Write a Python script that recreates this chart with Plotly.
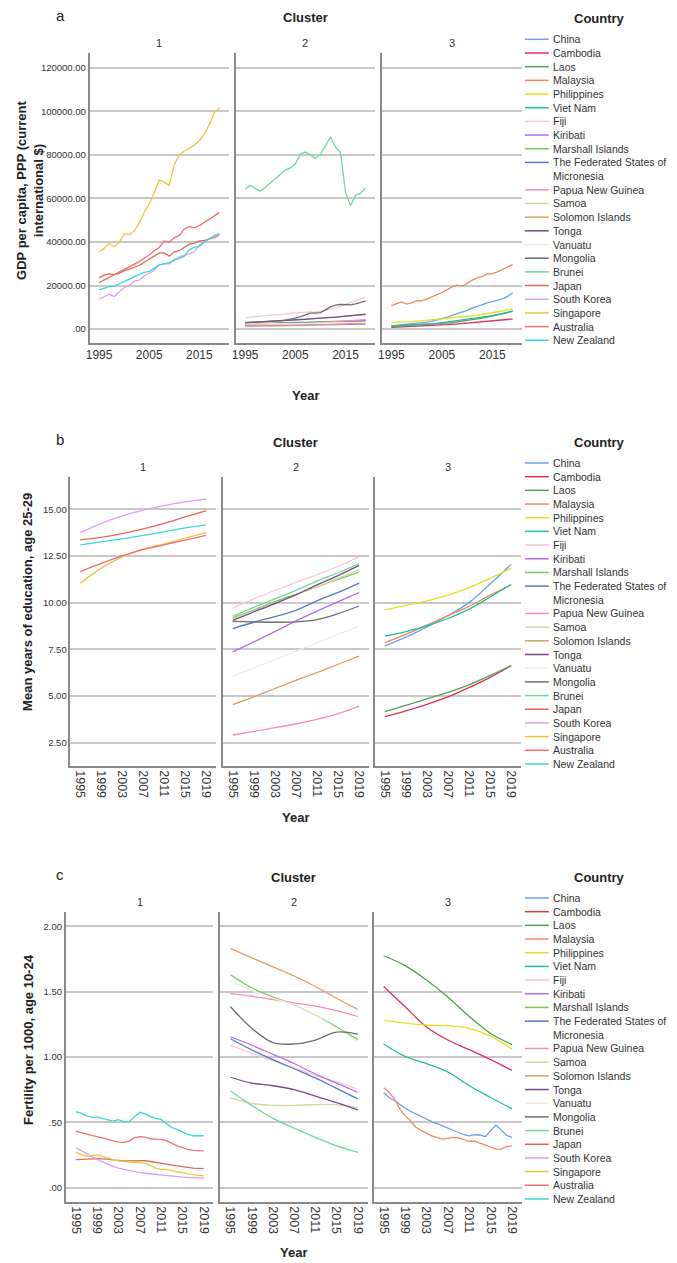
import plotly.graph_objects as go

PAGE_W, PAGE_H = 677, 1263
BODY_MARGIN = 8  # default page margin around the plot div
W, H = PAGE_W - BODY_MARGIN, PAGE_H - BODY_MARGIN
FONT = "Liberation Sans, Arial, sans-serif"

# ---------------- data ----------------
YEARS = list(range(1995, 2020))
YEARS_4 = [1995, 1999, 2003, 2007, 2011, 2015, 2019]

COUNTRIES = ["China", "Cambodia", "Laos", "Malaysia", "Philippines", "Viet Nam", "Fiji", "Kiribati",
             "Marshall Islands", "The Federated States of Micronesia", "Papua New Guinea", "Samoa",
             "Solomon Islands", "Tonga", "Vanuatu", "Mongolia", "Brunei", "Japan", "South Korea",
             "Singapore", "Australia", "New Zealand"]
COLORS = ["#6fa0e8", "#e0305a", "#55a050", "#f08a5d", "#e6e020", "#1fc0a0", "#f9c6d4", "#b46ef0",
          "#7cc85a", "#5a78c8", "#f68cc0", "#d6d6a0", "#d8a068", "#7a4a8c", "#ecece0", "#6e6e6e",
          "#6ed8a0", "#e06a5a", "#dca0f0", "#e6c83c", "#f07070", "#3cd8d8"]
CLUSTER_1 = ["Japan", "South Korea", "Singapore", "Australia", "New Zealand"]
CLUSTER_2 = ["Fiji", "Kiribati", "Marshall Islands", "The Federated States of Micronesia", "Papua New Guinea",
             "Samoa", "Solomon Islands", "Tonga", "Vanuatu", "Mongolia", "Brunei"]
CLUSTER_3 = ["China", "Cambodia", "Laos", "Malaysia", "Philippines", "Viet Nam"]

# GDP per capita, PPP (yearly 1995-2019)
GDP_CHINA = [1500, 1700, 1900, 2100, 2300, 2600, 2900, 3200, 3600, 4100, 4700, 5400, 6300, 7000, 7700, 8600, 9600, 10500, 11300, 12000, 12600, 13100, 13900, 15000, 16700]
GDP_CAMBODIA = [800, 900, 900, 900, 1000, 1100, 1200, 1300, 1400, 1600, 1800, 2000, 2200, 2400, 2400, 2600, 2800, 3000, 3200, 3400, 3500, 3800, 4000, 4300, 4600]
GDP_LAOS = [1400, 1500, 1600, 1600, 1700, 1800, 1900, 2000, 2200, 2300, 2500, 2700, 3000, 3300, 3500, 3800, 4200, 4600, 5000, 5500, 6000, 6500, 7000, 7600, 8100]
GDP_MALAYSIA = [10800, 11800, 12500, 11500, 12000, 13000, 13000, 13800, 14700, 15800, 16800, 18000, 19400, 20200, 19700, 21000, 22500, 23500, 24200, 25300, 25500, 26300, 27500, 28500, 29600]
GDP_PHILIPPINES = [3000, 3200, 3300, 3300, 3400, 3600, 3700, 3800, 4100, 4400, 4700, 4900, 5200, 5400, 5500, 5800, 6000, 6400, 6800, 7100, 7400, 7800, 8300, 8800, 9300]
GDP_VIETNAM = [1300, 1400, 1500, 1600, 1700, 1800, 2000, 2200, 2400, 2600, 2900, 3200, 3500, 3800, 4000, 4300, 4700, 5000, 5400, 5800, 6200, 6600, 7100, 7700, 8400]
GDP_FIJI = [5300, 5500, 5600, 5700, 6100, 6000, 6300, 6600, 6900, 7300, 7500, 7700, 7700, 7900, 7800, 8000, 8500, 9000, 9600, 10400, 11300, 12200, 13000, 13900, 14700]
GDP_KIRIBATI = [1400, 1450, 1500, 1500, 1550, 1600, 1650, 1700, 1700, 1750, 1800, 1800, 1850, 1900, 1900, 1950, 2000, 2050, 2100, 2100, 2150, 2200, 2250, 2300, 2300]
GDP_MARSHALL = [2400, 2450, 2500, 2500, 2550, 2600, 2650, 2700, 2750, 2800, 2900, 2950, 3000, 3100, 3100, 3150, 3250, 3350, 3450, 3550, 3650, 3750, 3850, 3950, 4050]
GDP_MICRONESIA = [2400, 2400, 2450, 2450, 2500, 2550, 2600, 2650, 2700, 2750, 2800, 2850, 2900, 2950, 2950, 3000, 3100, 3150, 3200, 3300, 3350, 3450, 3500, 3600, 3700]
GDP_PNG = [2000, 2050, 2050, 2000, 2000, 2050, 2050, 2100, 2150, 2200, 2300, 2400, 2500, 2650, 2800, 2950, 3100, 3300, 3450, 3650, 3850, 4000, 4150, 4250, 4350]
GDP_SAMOA = [2700, 2800, 2900, 3000, 3100, 3300, 3500, 3700, 3900, 4100, 4300, 4500, 4700, 4900, 5000, 5000, 5200, 5400, 5500, 5700, 5900, 6000, 6200, 6400, 6600]
GDP_SOLOMON = [1600, 1650, 1650, 1600, 1550, 1450, 1400, 1400, 1450, 1550, 1650, 1750, 1850, 1950, 1950, 2050, 2200, 2300, 2400, 2450, 2500, 2550, 2600, 2650, 2700]
GDP_TONGA = [3000, 3100, 3200, 3300, 3400, 3500, 3600, 3700, 3900, 4000, 4200, 4400, 4500, 4700, 4800, 5000, 5200, 5400, 5500, 5700, 5900, 6100, 6300, 6500, 6800]
GDP_VANUATU = [2400, 2450, 2500, 2500, 2450, 2500, 2450, 2350, 2400, 2500, 2600, 2700, 2850, 2950, 2950, 2950, 2950, 3000, 3000, 3050, 3050, 3100, 3150, 3200, 3200]
GDP_MONGOLIA = [2900, 3000, 3100, 3150, 3250, 3400, 3600, 3800, 4100, 4500, 5000, 5700, 6500, 7300, 7300, 7600, 8800, 10200, 11000, 11300, 11200, 11100, 11600, 12300, 12900]
GDP_BRUNEI = [64300, 66000, 64600, 63400, 65000, 66800, 69000, 71000, 73000, 74000, 75800, 80400, 81300, 80000, 78500, 80200, 84000, 88300, 83700, 81100, 63000, 56600, 61500, 62300, 64900]
GDP_JAPAN = [23600, 24800, 25300, 25000, 25500, 26800, 27500, 28300, 29200, 30700, 32000, 33500, 35000, 35000, 33500, 35500, 36000, 37500, 39000, 39500, 40500, 40700, 41500, 42000, 43200]
GDP_KOREA = [13700, 15000, 16000, 15000, 17000, 19000, 20000, 22000, 22500, 24500, 25500, 27000, 29500, 30000, 30000, 32000, 33000, 34000, 34500, 35500, 38500, 40000, 41500, 42500, 43500]
GDP_SINGAPORE = [35500, 37000, 39500, 37800, 39800, 43800, 43300, 45000, 48500, 53500, 57500, 62500, 68500, 67500, 66000, 75500, 80000, 81800, 83000, 84500, 86500, 89500, 94000, 99500, 101500]
GDP_AUSTRALIA = [21300, 22500, 23800, 25000, 26300, 27500, 28500, 29700, 31000, 32500, 34000, 36000, 37500, 40500, 39800, 42000, 43000, 46000, 47000, 46500, 47500, 49000, 50500, 52000, 53500]
GDP_NZ = [18000, 18800, 19500, 19700, 20800, 22000, 23000, 24000, 25000, 26000, 26500, 28000, 29500, 30000, 30500, 31500, 32500, 33500, 36500, 37500, 38000, 40000, 41500, 43000, 44000]

# Mean years of education, age 25-29 (1995, 1999, ..., 2019)
EDU_CHINA = [7.68, 8.15, 8.7, 9.3, 10.0, 11.0, 12.05]
EDU_CAMBODIA = [3.89, 4.2, 4.55, 4.95, 5.45, 6.0, 6.63]
EDU_LAOS = [4.16, 4.5, 4.85, 5.2, 5.6, 6.1, 6.63]
EDU_MALAYSIA = [7.86, 8.3, 8.8, 9.3, 9.8, 10.4, 10.95]
EDU_PHILIPPINES = [9.61, 9.85, 10.1, 10.4, 10.8, 11.3, 11.85]
EDU_VIETNAM = [8.21, 8.45, 8.75, 9.15, 9.65, 10.3, 10.98]
EDU_FIJI = [9.71, 10.2, 10.65, 11.08, 11.5, 11.95, 12.45]
EDU_KIRIBATI = [7.36, 7.9, 8.45, 9.02, 9.55, 10.05, 10.54]
EDU_MARSHALL = [9.2, 9.6, 10.05, 10.45, 10.85, 11.25, 11.64]
EDU_MICRONESIA = [8.61, 8.95, 9.25, 9.59, 10.1, 10.55, 11.05]
EDU_PNG = [2.91, 3.1, 3.3, 3.5, 3.75, 4.05, 4.46]
EDU_SAMOA = [9.14, 9.55, 9.95, 10.4, 10.85, 11.3, 11.77]
EDU_SOLOMON = [4.54, 4.95, 5.4, 5.84, 6.25, 6.7, 7.14]
EDU_TONGA = [9.05, 9.5, 9.95, 10.43, 10.95, 11.45, 12.0]
EDU_VANUATU = [6.07, 6.5, 6.95, 7.4, 7.85, 8.3, 8.73]
EDU_MONGOLIA = [9.0, 8.97, 8.95, 8.97, 9.09, 9.41, 9.82]
EDU_BRUNEI = [9.27, 9.75, 10.2, 10.66, 11.15, 11.6, 12.09]
EDU_JAPAN = [13.36, 13.5, 13.7, 13.95, 14.25, 14.6, 14.92]
EDU_KOREA = [13.75, 14.25, 14.65, 14.95, 15.2, 15.4, 15.55]
EDU_SINGAPORE = [11.04, 11.85, 12.45, 12.85, 13.15, 13.45, 13.75]
EDU_AUSTRALIA = [11.66, 12.1, 12.5, 12.85, 13.1, 13.35, 13.6]
EDU_NZ = [13.09, 13.25, 13.42, 13.6, 13.8, 14.0, 14.17]

# Fertility per 1000, age 10-24 (yearly for wiggly series, 4-yearly for smooth ones)
FERT_CHINA = [0.726, 0.69, 0.667, 0.636, 0.608, 0.585, 0.564, 0.544, 0.523, 0.505, 0.49, 0.474, 0.456, 0.441, 0.426, 0.405, 0.397, 0.405, 0.403, 0.39, 0.435, 0.48, 0.44, 0.40, 0.385]
FERT_MALAYSIA = [0.764, 0.731, 0.68, 0.603, 0.551, 0.513, 0.462, 0.436, 0.415, 0.397, 0.385, 0.372, 0.377, 0.385, 0.38, 0.37, 0.355, 0.355, 0.34, 0.325, 0.315, 0.295, 0.295, 0.315, 0.32]
FERT_CAMBODIA = [1.54, 1.385, 1.23, 1.13, 1.056, 0.98, 0.897]
FERT_LAOS = [1.775, 1.70, 1.59, 1.46, 1.31, 1.18, 1.095]
FERT_PHILIPPINES = [1.28, 1.26, 1.245, 1.24, 1.22, 1.16, 1.06]
FERT_VIETNAM = [1.10, 1.005, 0.95, 0.885, 0.78, 0.69, 0.603]
FERT_FIJI = [1.09, 1.03, 0.97, 0.915, 0.86, 0.81, 0.755]
FERT_KIRIBATI = [1.155, 1.09, 1.02, 0.95, 0.87, 0.80, 0.73]
FERT_MARSHALL = [1.63, 1.53, 1.46, 1.40, 1.32, 1.23, 1.135]
FERT_MICRONESIA = [1.14, 1.055, 0.98, 0.91, 0.84, 0.76, 0.68]
FERT_PNG = [1.485, 1.465, 1.44, 1.415, 1.39, 1.355, 1.31]
FERT_SAMOA = [0.685, 0.645, 0.63, 0.63, 0.635, 0.635, 0.61]
FERT_SOLOMON = [1.83, 1.76, 1.69, 1.62, 1.54, 1.45, 1.365]
FERT_TONGA = [0.845, 0.80, 0.78, 0.75, 0.70, 0.65, 0.595]
FERT_VANUATU = [1.58, 1.51, 1.45, 1.40, 1.32, 1.22, 1.12]
FERT_MONGOLIA = [1.385, 1.22, 1.11, 1.10, 1.13, 1.19, 1.175]
FERT_BRUNEI = [0.74, 0.63, 0.53, 0.455, 0.385, 0.32, 0.27]
FERT_JAPAN = [0.215, 0.215, 0.217, 0.22, 0.222, 0.222, 0.218, 0.213, 0.208, 0.205, 0.205, 0.206, 0.207, 0.206, 0.2, 0.195, 0.188, 0.18, 0.172, 0.165, 0.16, 0.155, 0.15, 0.147, 0.145]
FERT_KOREA = [0.305, 0.28, 0.26, 0.237, 0.215, 0.197, 0.18, 0.164, 0.15, 0.14, 0.13, 0.122, 0.115, 0.11, 0.105, 0.1, 0.095, 0.091, 0.087, 0.083, 0.08, 0.078, 0.075, 0.073, 0.072]
FERT_SINGAPORE = [0.27, 0.255, 0.24, 0.245, 0.25, 0.24, 0.225, 0.215, 0.205, 0.2, 0.2, 0.195, 0.19, 0.185, 0.17, 0.15, 0.14, 0.14, 0.13, 0.12, 0.11, 0.105, 0.1, 0.093, 0.09]
FERT_AUSTRALIA = [0.433, 0.42, 0.41, 0.40, 0.39, 0.38, 0.37, 0.356, 0.349, 0.346, 0.356, 0.382, 0.39, 0.387, 0.374, 0.369, 0.369, 0.359, 0.338, 0.32, 0.308, 0.292, 0.285, 0.282, 0.282]
FERT_NZ = [0.58, 0.57, 0.55, 0.54, 0.54, 0.53, 0.52, 0.51, 0.52, 0.505, 0.505, 0.54, 0.577, 0.564, 0.544, 0.531, 0.523, 0.49, 0.46, 0.446, 0.428, 0.408, 0.397, 0.395, 0.397]

GDP_TICKS = [0, 20000, 40000, 60000, 80000, 100000, 120000]
GDP_TICKTEXT = [".00", "20000.00", "40000.00", "60000.00", "80000.00", "100000.00", "120000.00"]
EDU_TICKS = [2.5, 5.0, 7.5, 10.0, 12.5, 15.0]
EDU_TICKTEXT = ["2.50", "5.00", "7.50", "10.00", "12.50", "15.00"]
FERT_TICKS = [0.0, 0.5, 1.0, 1.5, 2.0]
FERT_TICKTEXT = [".00", ".50", "1.00", "1.50", "2.00"]
X_TICKS_A = [1995, 2005, 2015]
X_TICKS_BC = [1995, 1999, 2003, 2007, 2011, 2015, 2019]

GDP = {"China": GDP_CHINA, "Cambodia": GDP_CAMBODIA, "Laos": GDP_LAOS, "Malaysia": GDP_MALAYSIA,
       "Philippines": GDP_PHILIPPINES, "Viet Nam": GDP_VIETNAM, "Fiji": GDP_FIJI, "Kiribati": GDP_KIRIBATI,
       "Marshall Islands": GDP_MARSHALL, "The Federated States of Micronesia": GDP_MICRONESIA,
       "Papua New Guinea": GDP_PNG, "Samoa": GDP_SAMOA, "Solomon Islands": GDP_SOLOMON, "Tonga": GDP_TONGA,
       "Vanuatu": GDP_VANUATU, "Mongolia": GDP_MONGOLIA, "Brunei": GDP_BRUNEI, "Japan": GDP_JAPAN,
       "South Korea": GDP_KOREA, "Singapore": GDP_SINGAPORE, "Australia": GDP_AUSTRALIA, "New Zealand": GDP_NZ}
EDU = {"China": EDU_CHINA, "Cambodia": EDU_CAMBODIA, "Laos": EDU_LAOS, "Malaysia": EDU_MALAYSIA,
       "Philippines": EDU_PHILIPPINES, "Viet Nam": EDU_VIETNAM, "Fiji": EDU_FIJI, "Kiribati": EDU_KIRIBATI,
       "Marshall Islands": EDU_MARSHALL, "The Federated States of Micronesia": EDU_MICRONESIA,
       "Papua New Guinea": EDU_PNG, "Samoa": EDU_SAMOA, "Solomon Islands": EDU_SOLOMON, "Tonga": EDU_TONGA,
       "Vanuatu": EDU_VANUATU, "Mongolia": EDU_MONGOLIA, "Brunei": EDU_BRUNEI, "Japan": EDU_JAPAN,
       "South Korea": EDU_KOREA, "Singapore": EDU_SINGAPORE, "Australia": EDU_AUSTRALIA, "New Zealand": EDU_NZ}
FERT = {"China": FERT_CHINA, "Cambodia": FERT_CAMBODIA, "Laos": FERT_LAOS, "Malaysia": FERT_MALAYSIA,
        "Philippines": FERT_PHILIPPINES, "Viet Nam": FERT_VIETNAM, "Fiji": FERT_FIJI, "Kiribati": FERT_KIRIBATI,
        "Marshall Islands": FERT_MARSHALL, "The Federated States of Micronesia": FERT_MICRONESIA,
        "Papua New Guinea": FERT_PNG, "Samoa": FERT_SAMOA, "Solomon Islands": FERT_SOLOMON, "Tonga": FERT_TONGA,
        "Vanuatu": FERT_VANUATU, "Mongolia": FERT_MONGOLIA, "Brunei": FERT_BRUNEI, "Japan": FERT_JAPAN,
        "South Korea": FERT_KOREA, "Singapore": FERT_SINGAPORE, "Australia": FERT_AUSTRALIA, "New Zealand": FERT_NZ}
COLOR = dict(zip(COUNTRIES, COLORS))
CLUSTERS = [CLUSTER_1, CLUSTER_2, CLUSTER_3]


# ---------------- layout geometry (page pixels) ----------------
def px(x):
    return (x - BODY_MARGIN) / W


def py(y):
    return 1 - (y - BODY_MARGIN) / H


PANELS = [
    dict(letter="a", data=GDP, yrange=[-6400, 126800], ticks=GDP_TICKS, ticktext=GDP_TICKTEXT,
         xticks=X_TICKS_A, tickangle=0, xfont=12,
         xdom=[(86, 226), (233, 373), (380, 521)], ydom=(53, 343),
         top=18, facet=43, legend0=39.3, year_y=395, ytitle="GDP per capita, PPP (current<br>international $)",
         ytitle_xy=(26, 190)),
    dict(letter="b", data=EDU, yrange=[1.25, 16.73], ticks=EDU_TICKS, ticktext=EDU_TICKTEXT,
         xticks=X_TICKS_BC, tickangle=90, xfont=12.5,
         xdom=[(66.7, 213), (220, 367), (373, 520)], ydom=(477, 766),
         top=442, facet=467, legend0=463, year_y=817, ytitle="Mean years of education, age 25-29",
         ytitle_xy=(23, 602)),
    dict(letter="c", data=FERT, yrange=[-0.11, 2.11], ticks=FERT_TICKS, ticktext=FERT_TICKTEXT,
         xticks=X_TICKS_BC, tickangle=90, xfont=12.5,
         xdom=[(62, 210.7), (217.7, 365.7), (371.7, 521)], ydom=(912, 1202),
         top=877, facet=902, legend0=898, year_y=1252, ytitle="Fertility per 1000, age 10-24",
         ytitle_xy=(24, 1039)),
]

fig = go.Figure()
layout = dict(width=W, height=H, margin=dict(l=0, r=0, t=0, b=0), showlegend=False,
              paper_bgcolor="white", plot_bgcolor="white", font=dict(family=FONT, color="#222"))
annotations = []
shapes = []

GRID = "#c8c8c8"
AXIS = "#8a8a8a"
LEG_STEP = 13.68

for p, P in enumerate(PANELS):
    for c in range(3):
        n = p * 3 + c + 1
        xa = "x" if n == 1 else f"x{n}"
        ya = "y" if n == 1 else f"y{n}"
        xk = "xaxis" if n == 1 else f"xaxis{n}"
        yk = "yaxis" if n == 1 else f"yaxis{n}"
        x0, x1 = P["xdom"][c]
        y0, y1 = P["ydom"]
        layout[xk] = dict(domain=[px(x0), px(x1)], range=[1993.1, 2020.85], anchor=ya,
                          tickvals=P["xticks"], ticktext=[str(v) for v in P["xticks"]],
                          tickangle=P["tickangle"], tickfont=dict(size=P["xfont"], color="#333"),
                          showgrid=False, zeroline=False, showline=True, linecolor=AXIS, linewidth=1.5,
                          ticks="", fixedrange=True)
        layout[yk] = dict(domain=[py(y1), py(y0)], range=P["yrange"], anchor=xa,
                          tickvals=P["ticks"], ticktext=P["ticktext"], showticklabels=(c == 0),
                          tickfont=dict(size=9.5, color="#333"),
                          showgrid=True, gridcolor=GRID, gridwidth=1.5, zeroline=False,
                          showline=True, linecolor=AXIS, linewidth=1.5, ticks="", fixedrange=True)
        for country in CLUSTERS[c]:
            vals = P["data"][country]
            xs = YEARS if len(vals) == len(YEARS) else YEARS_4
            smooth = len(vals) != len(YEARS)
            fig.add_trace(go.Scatter(
                x=xs, y=vals, mode="lines", name=country, xaxis=xa, yaxis=ya,
                line=dict(color=COLOR[country], width=1.3,
                          shape="spline" if smooth else "linear", smoothing=1.0),
                hoverinfo="name+x+y"))
        annotations.append(dict(text=str(c + 1), x=px((x0 + x1) / 2), y=py(P["facet"]), xref="paper",
                                yref="paper", showarrow=False, xanchor="center", yanchor="middle",
                                font=dict(size=11, color="#333")))
    xl = P["xdom"][0][0]
    xr = P["xdom"][2][1]
    mid = (xl + xr) / 2
    annotations.append(dict(text=P["letter"], x=px(50), y=py(P["top"] - 3), xref="paper", yref="paper",
                            showarrow=False, xanchor="left", yanchor="middle", font=dict(size=15, color="#222")))
    annotations.append(dict(text="<b>Cluster</b>", x=px(mid), y=py(P["top"]), xref="paper", yref="paper",
                            showarrow=False, xanchor="center", yanchor="middle", font=dict(size=13, color="#222")))
    annotations.append(dict(text="<b>Year</b>", x=px(mid), y=py(P["year_y"]), xref="paper", yref="paper",
                            showarrow=False, xanchor="center", yanchor="middle", font=dict(size=13, color="#222")))
    annotations.append(dict(text="<b>" + P["ytitle"] + "</b>", x=px(P["ytitle_xy"][0]), y=py(P["ytitle_xy"][1]),
                            xref="paper", yref="paper", showarrow=False, textangle=-90,
                            xanchor="center", yanchor="middle", font=dict(size=13, color="#222")))
    annotations.append(dict(text="<b>Country</b>", x=px(599), y=py(P["legend0"] - 20.5), xref="paper",
                            yref="paper", showarrow=False, xanchor="center", yanchor="middle",
                            font=dict(size=13, color="#222")))
    slot = 0
    for country in COUNTRIES:
        yy = P["legend0"] + slot * LEG_STEP
        shapes.append(dict(type="line", xref="paper", yref="paper", x0=px(524), x1=px(548),
                           y0=py(yy), y1=py(yy), line=dict(color=COLOR[country], width=1.5)))
        if country == "The Federated States of Micronesia":
            annotations.append(dict(text="The Federated States of<br>Micronesia", x=px(550),
                                    y=py(yy + LEG_STEP / 2), xref="paper", yref="paper", showarrow=False,
                                    xanchor="left", yanchor="middle", align="left",
                                    font=dict(size=10.5, color="#333")))
            slot += 2
        else:
            annotations.append(dict(text=country, x=px(550), y=py(yy), xref="paper", yref="paper",
                                    showarrow=False, xanchor="left", yanchor="middle",
                                    font=dict(size=10.5, color="#333")))
            slot += 1

layout["annotations"] = annotations
layout["shapes"] = shapes
fig.update_layout(**layout)
fig.write_html("out.html")
